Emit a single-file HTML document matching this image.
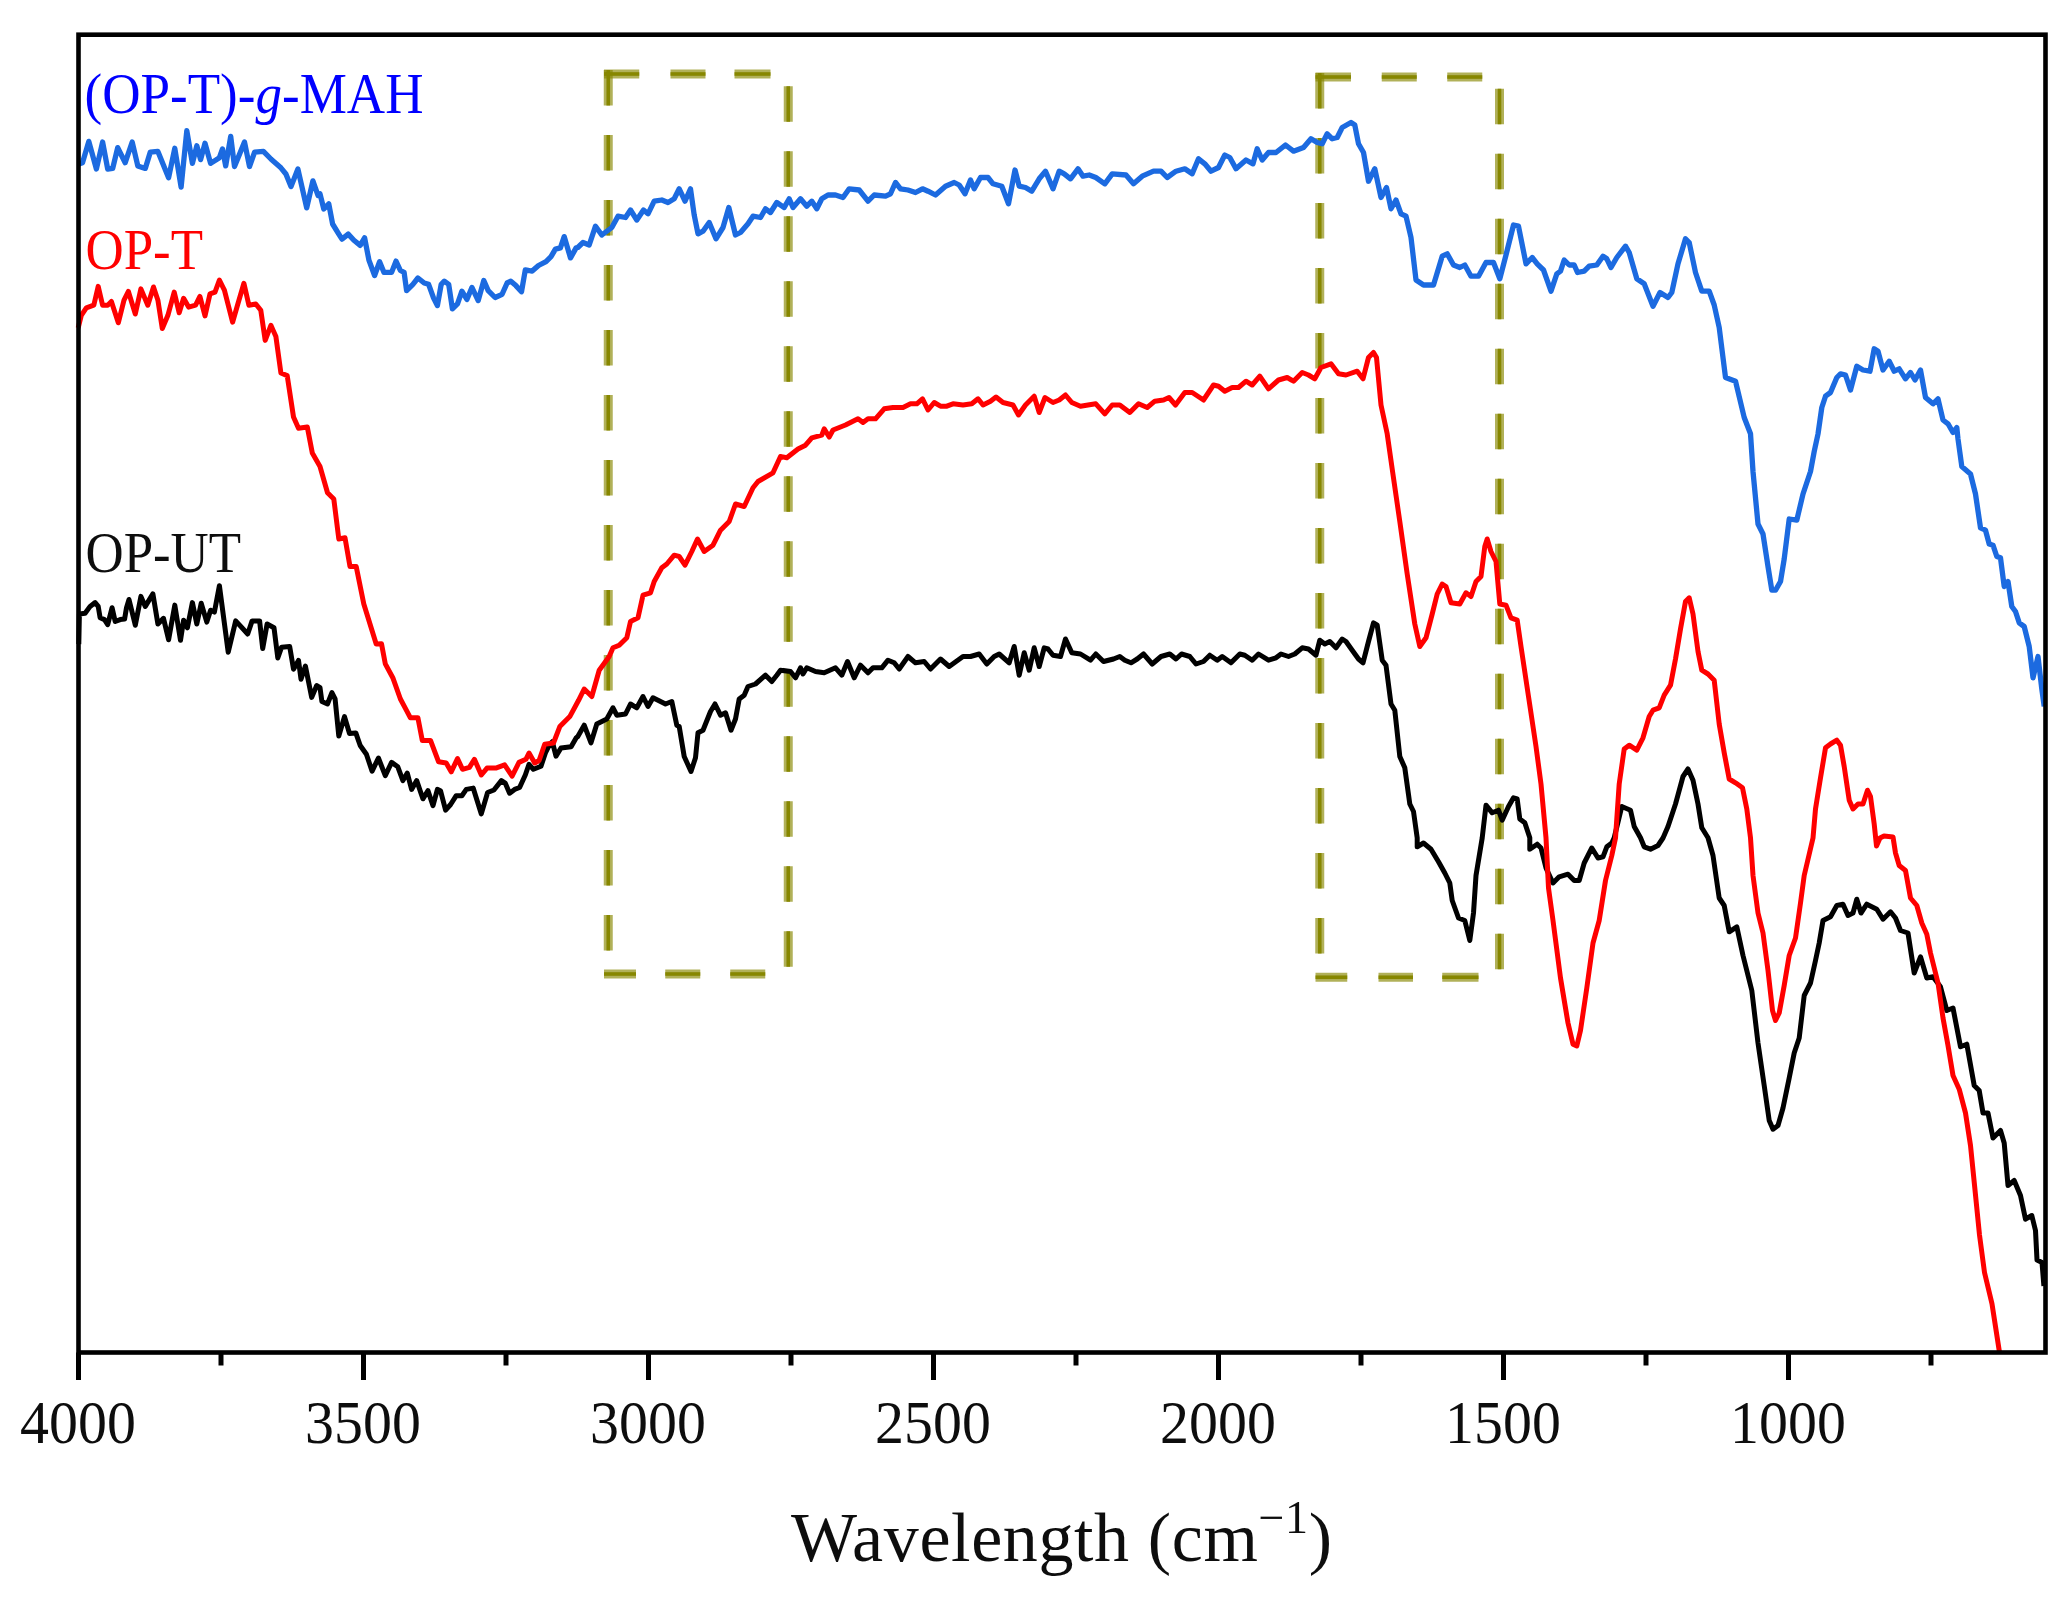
<!DOCTYPE html>
<html><head><meta charset="utf-8"><title>FTIR spectra</title>
<style>
html,body{margin:0;padding:0;background:#fff;}
body{width:2071px;height:1618px;overflow:hidden;}
svg{display:block;}
text{font-family:"Liberation Serif","Times New Roman",serif;}
</style></head><body>
<svg width="2071" height="1618" viewBox="0 0 2071 1618">
<rect x="0" y="0" width="2071" height="1618" fill="#ffffff"/>
<defs><filter id="soft" x="0" y="0" width="2071" height="1618" filterUnits="userSpaceOnUse"><feGaussianBlur stdDeviation="0.75"/></filter></defs>
<g filter="url(#soft)">
<g fill="#878700"><rect x="603.75" y="70.00" width="9.0" height="35.50" opacity="0.65"/><rect x="606.45" y="70.00" width="3.6" height="35.50"/><rect x="603.75" y="135.00" width="9.0" height="35.50" opacity="0.65"/><rect x="606.45" y="135.00" width="3.6" height="35.50"/><rect x="603.75" y="200.00" width="9.0" height="35.50" opacity="0.65"/><rect x="606.45" y="200.00" width="3.6" height="35.50"/><rect x="603.75" y="265.00" width="9.0" height="35.50" opacity="0.65"/><rect x="606.45" y="265.00" width="3.6" height="35.50"/><rect x="603.75" y="330.00" width="9.0" height="35.50" opacity="0.65"/><rect x="606.45" y="330.00" width="3.6" height="35.50"/><rect x="603.75" y="395.00" width="9.0" height="35.50" opacity="0.65"/><rect x="606.45" y="395.00" width="3.6" height="35.50"/><rect x="603.75" y="460.00" width="9.0" height="35.50" opacity="0.65"/><rect x="606.45" y="460.00" width="3.6" height="35.50"/><rect x="603.75" y="525.00" width="9.0" height="35.50" opacity="0.65"/><rect x="606.45" y="525.00" width="3.6" height="35.50"/><rect x="603.75" y="590.00" width="9.0" height="35.50" opacity="0.65"/><rect x="606.45" y="590.00" width="3.6" height="35.50"/><rect x="603.75" y="655.00" width="9.0" height="35.50" opacity="0.65"/><rect x="606.45" y="655.00" width="3.6" height="35.50"/><rect x="603.75" y="720.00" width="9.0" height="35.50" opacity="0.65"/><rect x="606.45" y="720.00" width="3.6" height="35.50"/><rect x="603.75" y="785.00" width="9.0" height="35.50" opacity="0.65"/><rect x="606.45" y="785.00" width="3.6" height="35.50"/><rect x="603.75" y="850.00" width="9.0" height="35.50" opacity="0.65"/><rect x="606.45" y="850.00" width="3.6" height="35.50"/><rect x="603.75" y="915.00" width="9.0" height="35.50" opacity="0.65"/><rect x="606.45" y="915.00" width="3.6" height="35.50"/><rect x="783.75" y="86.25" width="9.0" height="35.50" opacity="0.65"/><rect x="786.45" y="86.25" width="3.6" height="35.50"/><rect x="783.75" y="151.25" width="9.0" height="35.50" opacity="0.65"/><rect x="786.45" y="151.25" width="3.6" height="35.50"/><rect x="783.75" y="216.25" width="9.0" height="35.50" opacity="0.65"/><rect x="786.45" y="216.25" width="3.6" height="35.50"/><rect x="783.75" y="281.25" width="9.0" height="35.50" opacity="0.65"/><rect x="786.45" y="281.25" width="3.6" height="35.50"/><rect x="783.75" y="346.25" width="9.0" height="35.50" opacity="0.65"/><rect x="786.45" y="346.25" width="3.6" height="35.50"/><rect x="783.75" y="411.25" width="9.0" height="35.50" opacity="0.65"/><rect x="786.45" y="411.25" width="3.6" height="35.50"/><rect x="783.75" y="476.25" width="9.0" height="35.50" opacity="0.65"/><rect x="786.45" y="476.25" width="3.6" height="35.50"/><rect x="783.75" y="541.25" width="9.0" height="35.50" opacity="0.65"/><rect x="786.45" y="541.25" width="3.6" height="35.50"/><rect x="783.75" y="606.25" width="9.0" height="35.50" opacity="0.65"/><rect x="786.45" y="606.25" width="3.6" height="35.50"/><rect x="783.75" y="671.25" width="9.0" height="35.50" opacity="0.65"/><rect x="786.45" y="671.25" width="3.6" height="35.50"/><rect x="783.75" y="736.25" width="9.0" height="35.50" opacity="0.65"/><rect x="786.45" y="736.25" width="3.6" height="35.50"/><rect x="783.75" y="801.25" width="9.0" height="35.50" opacity="0.65"/><rect x="786.45" y="801.25" width="3.6" height="35.50"/><rect x="783.75" y="866.25" width="9.0" height="35.50" opacity="0.65"/><rect x="786.45" y="866.25" width="3.6" height="35.50"/><rect x="783.75" y="931.25" width="9.0" height="35.50" opacity="0.65"/><rect x="786.45" y="931.25" width="3.6" height="35.50"/><rect x="604.00" y="69.50" width="35.25" height="9.0" opacity="0.65"/><rect x="604.00" y="72.20" width="35.25" height="3.6"/><rect x="670.50" y="69.50" width="35.00" height="9.0" opacity="0.65"/><rect x="670.50" y="72.20" width="35.00" height="3.6"/><rect x="734.50" y="69.50" width="36.00" height="9.0" opacity="0.65"/><rect x="734.50" y="72.20" width="36.00" height="3.6"/><rect x="604.00" y="969.50" width="32.00" height="9.0" opacity="0.65"/><rect x="604.00" y="972.20" width="32.00" height="3.6"/><rect x="665.25" y="969.50" width="35.00" height="9.0" opacity="0.65"/><rect x="665.25" y="972.20" width="35.00" height="3.6"/><rect x="730.25" y="969.50" width="35.00" height="9.0" opacity="0.65"/><rect x="730.25" y="972.20" width="35.00" height="3.6"/><rect x="1315.25" y="73.00" width="9.0" height="35.50" opacity="0.65"/><rect x="1317.95" y="73.00" width="3.6" height="35.50"/><rect x="1315.25" y="138.00" width="9.0" height="35.50" opacity="0.65"/><rect x="1317.95" y="138.00" width="3.6" height="35.50"/><rect x="1315.25" y="203.00" width="9.0" height="35.50" opacity="0.65"/><rect x="1317.95" y="203.00" width="3.6" height="35.50"/><rect x="1315.25" y="268.00" width="9.0" height="35.50" opacity="0.65"/><rect x="1317.95" y="268.00" width="3.6" height="35.50"/><rect x="1315.25" y="333.00" width="9.0" height="35.50" opacity="0.65"/><rect x="1317.95" y="333.00" width="3.6" height="35.50"/><rect x="1315.25" y="398.00" width="9.0" height="35.50" opacity="0.65"/><rect x="1317.95" y="398.00" width="3.6" height="35.50"/><rect x="1315.25" y="463.00" width="9.0" height="35.50" opacity="0.65"/><rect x="1317.95" y="463.00" width="3.6" height="35.50"/><rect x="1315.25" y="528.00" width="9.0" height="35.50" opacity="0.65"/><rect x="1317.95" y="528.00" width="3.6" height="35.50"/><rect x="1315.25" y="593.00" width="9.0" height="35.50" opacity="0.65"/><rect x="1317.95" y="593.00" width="3.6" height="35.50"/><rect x="1315.25" y="658.00" width="9.0" height="35.50" opacity="0.65"/><rect x="1317.95" y="658.00" width="3.6" height="35.50"/><rect x="1315.25" y="723.00" width="9.0" height="35.50" opacity="0.65"/><rect x="1317.95" y="723.00" width="3.6" height="35.50"/><rect x="1315.25" y="788.00" width="9.0" height="35.50" opacity="0.65"/><rect x="1317.95" y="788.00" width="3.6" height="35.50"/><rect x="1315.25" y="853.00" width="9.0" height="35.50" opacity="0.65"/><rect x="1317.95" y="853.00" width="3.6" height="35.50"/><rect x="1315.25" y="918.00" width="9.0" height="35.50" opacity="0.65"/><rect x="1317.95" y="918.00" width="3.6" height="35.50"/><rect x="1495.00" y="88.75" width="9.0" height="35.50" opacity="0.65"/><rect x="1497.70" y="88.75" width="3.6" height="35.50"/><rect x="1495.00" y="153.75" width="9.0" height="35.50" opacity="0.65"/><rect x="1497.70" y="153.75" width="3.6" height="35.50"/><rect x="1495.00" y="218.75" width="9.0" height="35.50" opacity="0.65"/><rect x="1497.70" y="218.75" width="3.6" height="35.50"/><rect x="1495.00" y="283.75" width="9.0" height="35.50" opacity="0.65"/><rect x="1497.70" y="283.75" width="3.6" height="35.50"/><rect x="1495.00" y="348.75" width="9.0" height="35.50" opacity="0.65"/><rect x="1497.70" y="348.75" width="3.6" height="35.50"/><rect x="1495.00" y="413.75" width="9.0" height="35.50" opacity="0.65"/><rect x="1497.70" y="413.75" width="3.6" height="35.50"/><rect x="1495.00" y="478.75" width="9.0" height="35.50" opacity="0.65"/><rect x="1497.70" y="478.75" width="3.6" height="35.50"/><rect x="1495.00" y="543.75" width="9.0" height="35.50" opacity="0.65"/><rect x="1497.70" y="543.75" width="3.6" height="35.50"/><rect x="1495.00" y="608.75" width="9.0" height="35.50" opacity="0.65"/><rect x="1497.70" y="608.75" width="3.6" height="35.50"/><rect x="1495.00" y="673.75" width="9.0" height="35.50" opacity="0.65"/><rect x="1497.70" y="673.75" width="3.6" height="35.50"/><rect x="1495.00" y="738.75" width="9.0" height="35.50" opacity="0.65"/><rect x="1497.70" y="738.75" width="3.6" height="35.50"/><rect x="1495.00" y="803.75" width="9.0" height="35.50" opacity="0.65"/><rect x="1497.70" y="803.75" width="3.6" height="35.50"/><rect x="1495.00" y="868.75" width="9.0" height="35.50" opacity="0.65"/><rect x="1497.70" y="868.75" width="3.6" height="35.50"/><rect x="1495.00" y="933.75" width="9.0" height="35.50" opacity="0.65"/><rect x="1497.70" y="933.75" width="3.6" height="35.50"/><rect x="1315.50" y="72.50" width="35.50" height="9.0" opacity="0.65"/><rect x="1315.50" y="75.20" width="35.50" height="3.6"/><rect x="1381.75" y="72.50" width="35.00" height="9.0" opacity="0.65"/><rect x="1381.75" y="75.20" width="35.00" height="3.6"/><rect x="1447.25" y="72.50" width="35.00" height="9.0" opacity="0.65"/><rect x="1447.25" y="75.20" width="35.00" height="3.6"/><rect x="1315.50" y="972.75" width="31.75" height="9.0" opacity="0.65"/><rect x="1315.50" y="975.45" width="31.75" height="3.6"/><rect x="1378.50" y="972.75" width="34.50" height="9.0" opacity="0.65"/><rect x="1378.50" y="975.45" width="34.50" height="3.6"/><rect x="1442.25" y="972.75" width="36.25" height="9.0" opacity="0.65"/><rect x="1442.25" y="975.45" width="36.25" height="3.6"/></g>
<path d="M78.8,644.1 L79.4,613.9 L85.1,613.3 L90.1,606.4 L95.1,602.6 L98.2,606.4 L100.1,617.7 L104.5,619.6 L107.7,624.6 L112.1,607.7 L115.2,621.5 L120.2,619.6 L124.6,619.0 L126.5,607.7 L129.0,599.5 L135.3,625.2 L140.9,596.4 L145.3,606.4 L152.9,593.9 L157.9,624.0 L163.5,618.3 L168.6,639.7 L174.8,605.1 L180.5,640.3 L183.6,620.2 L187.4,627.8 L192.4,602.6 L196.8,624.0 L201.2,603.3 L206.8,622.1 L210.6,610.2 L214.4,612.1 L219.4,585.7 L228.2,652.2 L235.7,620.9 L247.7,634.0 L252.1,620.9 L259.6,620.9 L262.7,648.5 L267.1,624.0 L274.0,627.8 L277.8,657.9 L281.6,647.2 L289.7,646.6 L293.5,669.2 L298.5,660.4 L301.0,679.2 L305.4,666.0 L311.7,697.4 L316.7,685.5 L320.0,687.7 L321.9,701.5 L327.5,704.0 L331.9,692.7 L335.1,699.0 L338.8,736.0 L344.5,716.6 L349.5,733.5 L355.8,732.9 L360.2,745.5 L366.4,754.2 L372.1,771.2 L378.4,758.0 L385.3,775.6 L391.6,762.4 L397.8,766.8 L402.9,780.6 L407.3,773.1 L411.6,789.4 L416.7,780.6 L422.9,798.8 L428.0,790.7 L433.0,805.7 L437.4,789.4 L440.5,790.7 L445.6,810.1 L450.6,804.5 L456.2,795.7 L461.9,795.7 L466.3,789.4 L473.2,788.1 L481.3,813.9 L487.6,792.5 L493.9,790.0 L501.4,780.6 L505.2,783.1 L509.6,793.2 L514.6,789.4 L519.6,787.5 L525.3,775.0 L529.0,764.3 L533.4,769.3 L541.0,766.2 L545.4,753.0 L549.8,744.2 L552.3,741.7 L556.0,756.1 L561.0,748.0 L571.1,746.7 L576.1,737.9 L577.8,736.5 L584.2,725.2 L591.0,742.8 L596.8,724.0 L606.8,719.0 L613.0,707.8 L616.8,715.2 L625.5,714.0 L630.5,704.0 L636.8,707.8 L643.0,696.5 L648.0,706.5 L653.0,697.8 L660.5,701.5 L665.5,704.0 L671.8,701.5 L676.8,725.2 L679.2,726.5 L684.2,756.5 L691.0,771.5 L695.5,757.8 L698.0,732.8 L703.0,730.2 L710.5,711.5 L715.0,704.0 L720.5,715.2 L725.5,712.8 L731.0,730.2 L735.5,719.0 L739.2,699.0 L744.2,695.2 L748.0,686.5 L755.5,684.0 L765.5,675.2 L771.8,681.5 L776.8,675.2 L780.5,670.2 L790.5,671.5 L795.5,677.8 L800.5,667.8 L803.0,674.0 L806.8,667.8 L815.5,671.5 L824.2,672.8 L835.5,667.8 L841.8,675.2 L847.5,661.5 L854.2,677.8 L860.5,665.2 L868.0,672.8 L873.0,667.8 L881.8,667.8 L888.0,660.2 L894.2,662.8 L899.2,669.0 L908.0,656.5 L915.5,662.8 L924.2,661.5 L930.5,669.0 L940.5,659.0 L949.2,666.5 L963.0,656.5 L970.5,656.5 L979.2,654.0 L986.8,664.0 L994.2,656.5 L999.2,654.0 L1009.2,662.8 L1014.2,646.5 L1019.2,675.2 L1024.2,652.8 L1029.2,670.2 L1034.2,647.8 L1039.2,666.5 L1044.2,647.8 L1048.0,649.0 L1053.0,655.2 L1060.5,656.5 L1065.5,639.0 L1071.8,652.8 L1080.5,654.0 L1090.5,660.2 L1095.8,654.0 L1103.5,661.5 L1113.5,659.0 L1119.8,656.5 L1124.8,660.2 L1131.0,662.8 L1137.2,659.0 L1143.5,654.0 L1152.2,664.0 L1161.0,656.5 L1169.8,654.0 L1176.0,659.0 L1181.5,654.0 L1189.8,656.5 L1196.0,664.0 L1203.5,661.5 L1209.8,655.2 L1217.2,660.2 L1222.2,656.5 L1231.0,662.8 L1239.8,654.0 L1244.8,655.2 L1252.2,660.2 L1258.5,654.0 L1268.5,660.2 L1276.0,657.8 L1281.0,654.0 L1288.5,656.5 L1294.8,654.0 L1302.2,647.8 L1308.5,649.0 L1316.0,655.2 L1319.8,640.2 L1324.8,644.0 L1329.8,641.5 L1336.0,647.8 L1342.2,639.0 L1346.0,641.5 L1352.2,650.2 L1358.5,659.0 L1363.0,662.8 L1368.5,641.5 L1373.5,622.8 L1377.2,625.2 L1382.2,660.2 L1386.0,665.2 L1391.0,704.0 L1394.8,710.2 L1399.8,756.5 L1404.8,767.8 L1409.8,804.0 L1413.5,811.5 L1417.2,837.8 L1417.2,846.8 L1423.5,843.0 L1431.0,849.2 L1438.5,861.8 L1444.8,873.0 L1449.8,883.0 L1452.2,900.5 L1458.5,918.0 L1464.8,920.5 L1469.8,940.5 L1473.5,913.0 L1476.0,875.5 L1482.2,838.0 L1486.0,805.2 L1492.2,812.8 L1498.5,810.2 L1502.2,820.2 L1508.5,806.5 L1513.5,797.8 L1517.2,799.0 L1519.8,819.0 L1524.8,822.8 L1529.8,837.8 L1529.8,849.2 L1537.2,844.2 L1541.0,848.0 L1546.0,868.0 L1553.0,883.0 L1559.2,876.8 L1568.0,874.2 L1574.2,880.5 L1579.2,880.5 L1584.2,863.0 L1591.8,848.0 L1598.0,858.0 L1603.0,856.8 L1606.8,846.8 L1611.8,843.0 L1614.2,837.8 L1621.8,806.5 L1630.5,810.2 L1634.2,826.5 L1640.5,837.8 L1644.2,846.8 L1650.5,849.2 L1658.0,845.5 L1663.0,838.0 L1668.0,826.5 L1675.5,804.0 L1683.0,776.5 L1688.0,769.0 L1693.0,780.2 L1698.0,804.0 L1701.8,827.8 L1708.0,837.8 L1713.0,855.5 L1719.2,898.0 L1724.2,905.5 L1729.2,931.8 L1736.8,926.8 L1743.0,955.5 L1751.8,990.5 L1758.0,1043.0 L1764.2,1085.5 L1769.2,1120.5 L1773.0,1129.2 L1778.0,1125.5 L1783.0,1108.0 L1789.2,1078.0 L1794.2,1053.0 L1799.2,1038.0 L1804.2,995.5 L1810.5,983.0 L1815.5,960.5 L1819.2,943.0 L1823.0,920.5 L1830.5,916.8 L1836.8,905.5 L1843.0,904.2 L1848.0,915.5 L1853.0,913.0 L1856.8,899.2 L1861.0,913.0 L1866.8,904.2 L1876.8,909.2 L1883.0,919.2 L1890.5,911.8 L1895.5,918.0 L1900.5,930.5 L1908.0,933.0 L1914.2,973.0 L1920.5,956.8 L1926.8,978.0 L1933.0,976.8 L1940.5,986.8 L1946.8,1010.5 L1953.0,1008.0 L1960.5,1046.8 L1966.8,1044.2 L1974.2,1085.5 L1979.2,1090.5 L1983.0,1113.0 L1988.0,1113.0 L1993.0,1138.0 L2000.5,1130.5 L2004.2,1143.0 L2008.0,1185.5 L2014.2,1180.5 L2020.5,1195.5 L2025.5,1219.2 L2031.8,1215.5 L2035.5,1230.5 L2037.0,1260.0 L2042.0,1262.5 L2043.9,1286.0" fill="none" stroke="#000000" stroke-width="5.0" stroke-linejoin="round" stroke-linecap="butt"/>
<path d="M78.2,327.8 L81.3,315.3 L86.3,307.8 L93.8,305.2 L98.2,286.4 L102.6,305.2 L107.7,305.2 L111.4,301.5 L118.3,322.8 L124.0,300.2 L128.4,291.4 L135.3,314.0 L140.9,288.9 L147.8,305.2 L153.5,287.0 L157.9,300.2 L162.3,328.5 L167.9,315.3 L174.2,292.1 L179.2,312.8 L183.6,298.3 L188.6,307.1 L195.6,305.2 L199.9,296.4 L205.0,315.9 L210.0,293.9 L215.0,292.1 L219.4,280.1 L224.4,290.2 L232.6,322.2 L238.2,302.7 L243.9,283.3 L248.9,305.2 L255.8,304.0 L260.8,310.3 L265.2,340.4 L270.9,325.3 L275.9,336.6 L280.9,373.0 L287.2,375.6 L293.5,417.0 L298.5,428.3 L307.3,427.0 L312.3,453.0 L320.0,466.5 L327.5,492.8 L333.8,499.0 L338.8,539.0 L345.0,537.8 L350.0,566.5 L356.2,566.5 L363.8,604.0 L376.2,644.0 L381.5,643.8 L385.3,663.9 L392.8,677.7 L400.4,699.0 L405.4,708.4 L410.4,717.8 L417.9,717.8 L422.3,740.4 L430.5,740.4 L438.6,761.8 L446.2,763.0 L451.2,771.8 L457.5,758.6 L462.5,769.3 L469.4,767.4 L474.4,759.3 L481.3,775.0 L487.0,768.1 L495.8,768.1 L504.6,764.9 L512.1,776.2 L519.0,762.4 L525.9,759.3 L529.0,753.0 L534.7,763.0 L539.1,760.5 L544.7,744.2 L553.5,743.0 L559.8,726.6 L569.8,716.6 L578.6,700.3 L584.2,689.0 L591.8,696.5 L599.2,670.2 L609.2,656.5 L613.0,647.8 L619.2,645.2 L626.8,637.8 L630.5,621.5 L638.0,617.8 L643.0,595.2 L650.5,592.8 L654.2,581.5 L661.8,567.8 L666.8,564.0 L674.2,555.2 L679.2,556.5 L685.0,565.2 L691.8,551.5 L697.5,539.0 L704.2,551.5 L713.0,545.2 L720.5,530.2 L729.2,521.5 L735.5,504.0 L744.2,506.5 L753.0,487.8 L758.0,481.5 L773.0,472.8 L780.5,456.5 L786.8,457.8 L798.0,449.0 L805.5,445.2 L811.8,437.8 L821.8,435.2 L824.2,428.8 L829.2,437.0 L833.0,430.0 L845.5,425.0 L858.0,418.8 L863.0,422.5 L868.0,418.8 L875.5,418.8 L884.2,408.8 L893.0,407.5 L903.0,407.5 L910.5,403.8 L916.8,403.8 L922.5,398.8 L928.0,410.0 L934.2,402.5 L940.5,406.2 L946.8,406.2 L953.0,403.8 L963.0,405.0 L971.8,403.8 L978.0,398.8 L983.0,405.0 L990.5,401.2 L996.0,397.0 L1003.0,402.5 L1013.0,405.0 L1018.5,415.0 L1025.5,405.0 L1034.2,396.2 L1039.2,412.5 L1045.0,397.5 L1053.0,402.5 L1059.2,400.0 L1065.5,395.0 L1071.8,402.5 L1080.5,406.2 L1088.0,405.0 L1095.8,403.8 L1104.8,413.8 L1112.2,405.0 L1119.8,405.0 L1129.8,412.5 L1138.5,403.8 L1147.2,407.5 L1154.8,401.2 L1163.5,400.0 L1169.0,397.5 L1175.5,405.0 L1184.8,392.5 L1192.2,392.5 L1203.5,400.0 L1213.5,385.0 L1218.5,386.2 L1224.8,391.2 L1232.2,387.5 L1238.5,387.5 L1246.0,381.2 L1252.2,385.0 L1259.8,376.2 L1268.5,388.8 L1278.5,380.0 L1287.2,377.5 L1293.5,381.2 L1302.2,372.5 L1308.5,375.0 L1314.8,378.8 L1321.0,367.5 L1331.0,363.8 L1338.5,373.8 L1346.0,375.0 L1357.2,371.2 L1363.0,378.8 L1368.5,357.5 L1373.5,352.5 L1376.5,357.5 L1381.0,405.0 L1387.2,433.8 L1392.2,469.0 L1399.8,521.5 L1407.2,574.0 L1414.8,624.0 L1419.8,646.5 L1426.0,637.8 L1432.2,614.0 L1437.2,594.0 L1442.2,584.0 L1446.0,586.5 L1451.0,602.8 L1459.8,604.0 L1466.0,592.8 L1471.0,596.5 L1476.0,581.5 L1481.0,576.5 L1484.8,546.5 L1487.2,539.0 L1491.0,551.5 L1496.0,561.5 L1499.8,604.0 L1506.0,605.2 L1511.0,617.8 L1517.2,620.2 L1521.0,646.5 L1528.5,696.5 L1536.0,746.5 L1541.0,784.0 L1546.0,837.8 L1548.5,888.0 L1553.0,920.5 L1560.5,978.0 L1568.0,1023.0 L1573.0,1044.2 L1576.8,1046.0 L1580.5,1030.5 L1586.8,988.0 L1593.0,943.0 L1599.2,920.5 L1605.5,880.5 L1611.8,855.5 L1615.5,838.0 L1619.2,784.0 L1624.2,749.0 L1629.2,745.2 L1636.8,750.2 L1643.0,737.8 L1649.2,716.5 L1653.0,710.2 L1659.2,707.8 L1664.2,695.2 L1670.5,685.2 L1675.5,659.0 L1680.5,629.0 L1685.5,601.5 L1689.2,597.8 L1693.0,614.0 L1698.0,651.5 L1701.8,670.2 L1708.0,674.0 L1714.2,680.2 L1719.2,724.0 L1724.2,752.8 L1729.2,779.0 L1735.5,782.8 L1742.5,787.8 L1746.8,809.0 L1750.5,837.8 L1753.0,875.5 L1758.0,913.0 L1763.0,933.0 L1768.0,970.5 L1772.5,1010.5 L1775.5,1020.5 L1779.2,1013.0 L1784.2,985.5 L1789.2,955.5 L1795.5,938.0 L1800.5,903.0 L1804.2,875.5 L1813.0,838.0 L1815.5,809.0 L1820.5,777.8 L1825.5,747.8 L1830.5,744.0 L1836.8,740.2 L1840.5,745.2 L1844.2,766.5 L1849.2,800.2 L1853.0,809.0 L1858.0,804.0 L1863.0,804.0 L1867.5,790.2 L1870.5,796.5 L1874.2,824.0 L1876.5,846.0 L1880.0,838.0 L1884.0,836.0 L1893.0,837.0 L1895.5,853.0 L1899.2,865.5 L1905.5,870.5 L1910.5,898.0 L1916.8,905.5 L1921.8,923.0 L1926.8,934.2 L1930.5,953.0 L1938.0,983.0 L1943.0,1018.0 L1948.0,1045.5 L1953.0,1075.5 L1959.2,1089.2 L1965.5,1113.0 L1970.5,1145.5 L1974.5,1185.0 L1979.5,1235.0 L1984.5,1272.5 L1992.0,1303.8 L1999.5,1352.5" fill="none" stroke="#ff0000" stroke-width="5.0" stroke-linejoin="round" stroke-linecap="butt"/>
<path d="M78.8,164.0 L82.5,162.7 L88.8,141.4 L96.4,169.0 L102.6,142.0 L107.7,169.0 L112.7,168.4 L117.7,147.7 L125.2,162.7 L132.2,142.0 L137.8,165.9 L145.3,168.4 L150.3,152.1 L157.9,151.4 L168.6,177.8 L174.8,148.3 L181.1,187.2 L186.8,130.7 L192.4,163.4 L196.8,145.8 L200.6,159.6 L205.0,143.3 L210.6,163.4 L219.4,157.7 L222.5,148.9 L225.7,165.9 L230.7,136.4 L234.5,166.5 L244.5,142.0 L249.5,166.5 L254.6,152.1 L263.4,151.4 L270.9,159.0 L280.9,167.8 L285.9,174.0 L291.0,186.6 L297.9,169.0 L306.7,207.9 L312.9,180.9 L318.0,195.4 L320.0,193.9 L323.8,209.0 L328.8,203.9 L332.6,224.0 L338.8,234.1 L342.0,239.1 L348.2,234.1 L353.9,240.3 L360.2,245.4 L364.6,237.8 L369.0,260.4 L374.6,275.5 L379.6,261.7 L384.0,272.4 L391.6,272.4 L396.0,261.1 L400.4,270.5 L404.1,272.4 L406.6,290.6 L412.9,284.3 L417.9,278.0 L424.2,283.0 L428.6,284.3 L433.6,298.1 L437.4,305.6 L441.2,284.3 L444.3,281.2 L448.7,284.3 L452.4,308.8 L457.5,303.8 L461.9,291.2 L466.9,299.4 L471.9,287.4 L478.2,300.6 L483.8,280.5 L488.2,290.6 L495.1,297.5 L502.1,294.3 L507.1,283.0 L510.8,281.2 L515.9,285.6 L521.5,291.8 L525.3,269.9 L532.2,271.1 L538.5,265.5 L546.0,261.7 L551.0,256.7 L555.4,249.1 L560.4,247.9 L564.2,236.6 L570.5,257.9 L576.1,247.9 L577.8,247.5 L583.0,242.5 L589.2,245.0 L595.5,226.2 L601.8,235.0 L611.8,227.5 L618.0,216.2 L625.5,217.5 L630.5,210.0 L636.8,220.0 L643.5,210.0 L648.0,213.8 L654.2,201.2 L661.8,200.0 L668.0,202.5 L674.2,198.8 L679.2,188.8 L685.0,201.2 L690.5,188.8 L694.2,215.0 L698.0,233.8 L703.0,231.2 L709.2,222.5 L716.0,238.8 L723.0,227.5 L728.8,207.5 L735.5,235.0 L740.5,232.5 L748.0,223.8 L753.0,216.2 L760.5,217.5 L765.5,208.8 L770.5,212.5 L776.8,202.5 L784.2,207.5 L789.2,198.8 L793.0,207.5 L800.5,198.8 L806.8,206.2 L811.8,201.2 L816.8,208.8 L821.8,198.8 L828.0,195.0 L835.5,195.0 L843.0,197.5 L849.2,188.8 L859.2,190.0 L868.0,201.2 L874.2,195.0 L885.5,196.2 L890.5,193.8 L895.5,182.5 L900.5,188.8 L908.0,190.0 L915.5,192.5 L922.5,188.8 L928.0,191.2 L935.5,195.0 L945.5,186.2 L954.2,182.5 L959.2,185.0 L965.0,193.8 L970.5,180.0 L974.2,188.8 L980.5,177.5 L988.0,177.5 L993.0,183.8 L1001.8,186.2 L1008.5,203.8 L1015.0,170.0 L1019.2,186.2 L1025.5,187.5 L1031.8,191.2 L1039.2,178.8 L1045.5,171.2 L1053.0,188.8 L1059.2,171.2 L1064.2,173.8 L1070.5,178.8 L1078.0,168.8 L1083.0,176.2 L1089.2,175.0 L1095.8,177.5 L1104.8,183.8 L1112.2,173.8 L1126.0,175.0 L1133.5,183.8 L1142.2,176.2 L1153.5,171.2 L1161.0,171.2 L1167.2,177.5 L1176.0,171.2 L1184.8,168.8 L1192.2,173.8 L1198.5,158.8 L1204.8,163.8 L1211.0,171.2 L1218.5,167.5 L1224.8,155.0 L1229.8,157.5 L1236.0,168.8 L1246.0,160.0 L1253.0,163.8 L1257.2,148.8 L1262.2,160.0 L1268.5,152.5 L1276.0,152.5 L1285.5,145.0 L1293.5,151.2 L1303.5,147.5 L1311.0,138.8 L1317.2,142.5 L1322.2,143.8 L1327.2,133.8 L1332.2,138.8 L1337.2,137.5 L1342.2,127.5 L1351.0,122.5 L1354.8,125.0 L1358.5,143.8 L1363.5,152.5 L1368.5,181.2 L1374.8,168.8 L1381.0,197.5 L1386.5,187.5 L1391.0,208.8 L1396.0,200.0 L1401.0,213.8 L1406.0,216.2 L1411.0,237.5 L1416.0,280.0 L1423.5,285.0 L1433.5,285.0 L1442.2,256.2 L1447.2,253.8 L1453.5,265.0 L1459.8,267.5 L1464.8,265.0 L1471.0,276.2 L1478.5,276.2 L1486.0,262.5 L1493.5,262.5 L1499.8,278.8 L1506.0,255.0 L1513.5,225.0 L1518.5,226.2 L1526.0,263.8 L1532.2,257.5 L1537.2,263.8 L1543.5,270.0 L1551.0,291.2 L1556.8,273.8 L1560.5,271.2 L1564.2,260.0 L1569.2,265.0 L1574.2,265.0 L1577.5,272.5 L1584.2,271.2 L1589.2,266.2 L1596.8,265.0 L1603.0,256.2 L1606.8,258.8 L1611.0,267.5 L1616.8,257.5 L1625.5,246.2 L1629.2,252.5 L1636.8,278.8 L1644.2,283.8 L1653.0,306.2 L1660.0,292.5 L1668.0,297.5 L1671.8,292.5 L1678.0,263.8 L1685.5,238.8 L1689.2,242.5 L1695.5,272.5 L1701.8,291.2 L1709.2,291.2 L1714.2,305.0 L1719.2,327.5 L1725.5,377.5 L1735.5,381.2 L1744.2,417.5 L1750.5,433.8 L1753.0,471.5 L1758.0,524.0 L1763.0,534.0 L1768.0,566.5 L1771.8,590.2 L1775.5,590.2 L1780.5,581.5 L1784.2,559.0 L1789.2,519.0 L1796.8,520.2 L1803.0,494.0 L1810.5,471.5 L1814.2,451.5 L1818.0,434.0 L1821.8,407.5 L1825.5,396.2 L1830.5,392.5 L1836.8,377.5 L1840.5,373.8 L1845.5,375.0 L1850.5,390.0 L1856.8,366.2 L1863.0,370.0 L1870.0,371.2 L1874.2,348.8 L1878.0,351.2 L1883.0,370.0 L1889.2,361.2 L1894.2,371.2 L1899.2,368.8 L1905.5,378.8 L1910.5,372.5 L1915.0,380.0 L1920.5,370.0 L1925.5,397.5 L1933.0,403.8 L1938.0,398.8 L1943.0,420.0 L1948.0,423.8 L1953.0,432.5 L1956.8,427.5 L1958.0,439.0 L1961.8,466.5 L1970.5,474.0 L1975.5,494.0 L1980.5,527.8 L1985.5,530.2 L1989.2,544.0 L1993.0,545.2 L1996.8,556.5 L2000.5,557.8 L2004.2,586.5 L2008.0,581.5 L2011.8,606.5 L2015.5,611.5 L2019.2,622.8 L2024.2,626.5 L2029.2,646.5 L2033.0,677.8 L2038.0,656.5 L2041.8,689.0 L2044.2,706.5" fill="none" stroke="#1a6ae0" stroke-width="5.3" stroke-linejoin="round" stroke-linecap="butt"/>
<rect x="78.5" y="34.7" width="1967.0" height="1317.8" fill="none" stroke="#000" stroke-width="4.6"/>
<g stroke="#000" stroke-width="5"><line x1="78.5" y1="1352.5" x2="78.5" y2="1380"/><line x1="363.5" y1="1352.5" x2="363.5" y2="1380"/><line x1="648.5" y1="1352.5" x2="648.5" y2="1380"/><line x1="933.5" y1="1352.5" x2="933.5" y2="1380"/><line x1="1218.5" y1="1352.5" x2="1218.5" y2="1380"/><line x1="1503.5" y1="1352.5" x2="1503.5" y2="1380"/><line x1="1788.5" y1="1352.5" x2="1788.5" y2="1380"/><line x1="221" y1="1352.5" x2="221" y2="1365.5"/><line x1="506" y1="1352.5" x2="506" y2="1365.5"/><line x1="791" y1="1352.5" x2="791" y2="1365.5"/><line x1="1076" y1="1352.5" x2="1076" y2="1365.5"/><line x1="1361" y1="1352.5" x2="1361" y2="1365.5"/><line x1="1646" y1="1352.5" x2="1646" y2="1365.5"/><line x1="1931" y1="1352.5" x2="1931" y2="1365.5"/></g>
<g font-size="60.8" fill="#111" text-anchor="middle"><text x="78.0" y="1443" textLength="115.8" lengthAdjust="spacingAndGlyphs">4000</text><text x="363.0" y="1443" textLength="115.8" lengthAdjust="spacingAndGlyphs">3500</text><text x="648.0" y="1443" textLength="115.8" lengthAdjust="spacingAndGlyphs">3000</text><text x="933.0" y="1443" textLength="115.8" lengthAdjust="spacingAndGlyphs">2500</text><text x="1218.0" y="1443" textLength="115.8" lengthAdjust="spacingAndGlyphs">2000</text><text x="1503.0" y="1443" textLength="115.8" lengthAdjust="spacingAndGlyphs">1500</text><text x="1788.0" y="1443" textLength="115.8" lengthAdjust="spacingAndGlyphs">1000</text></g>
<text x="791" y="1560.5" font-size="70" fill="#111" textLength="541" lengthAdjust="spacing">Wavelength (cm<tspan font-size="46" dy="-28">−1</tspan><tspan dy="28">)</tspan></text>
<text x="84.5" y="112.5" font-size="56" fill="#0000ff" textLength="339" lengthAdjust="spacingAndGlyphs">(OP-T)-<tspan font-style="italic">g</tspan>-MAH</text>
<text x="85.5" y="268.5" font-size="56" fill="#ff0000" textLength="117.5" lengthAdjust="spacingAndGlyphs">OP-T</text>
<text x="85.5" y="571.5" font-size="56" fill="#111" textLength="155.5" lengthAdjust="spacingAndGlyphs">OP-UT</text>
</g>
</svg></body></html>
